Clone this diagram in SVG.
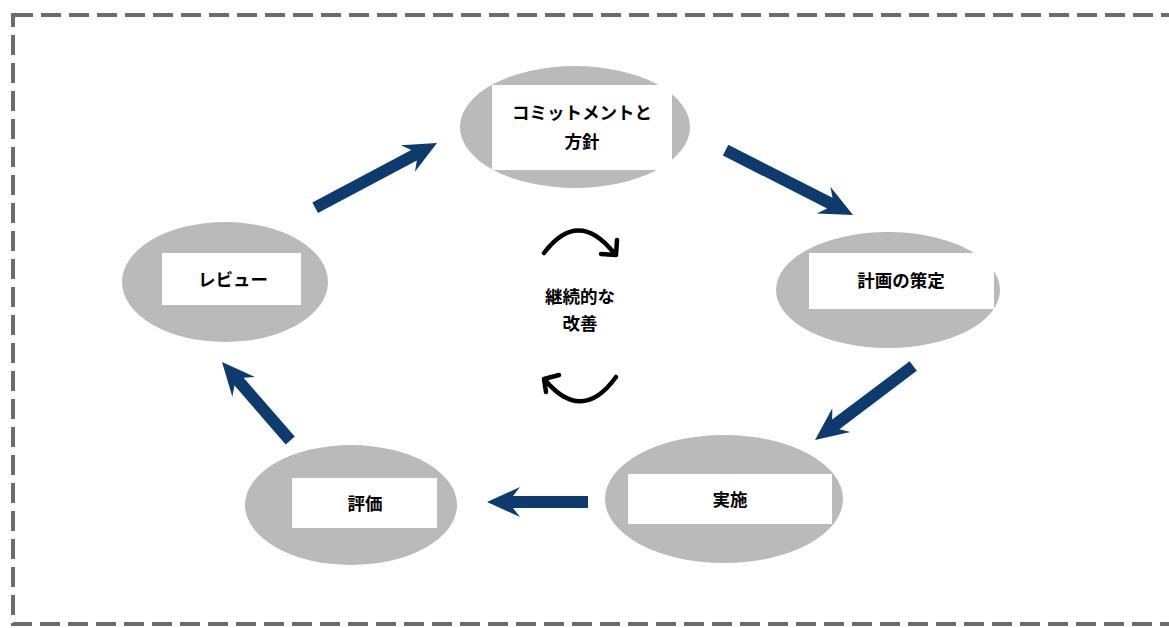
<svg xmlns="http://www.w3.org/2000/svg" width="1169" height="628" viewBox="0 0 1169 628">
<style>
.el{fill:#bababa}
.bx{fill:#ffffff}
.t{font-family:"Noto Sans CJK JP","Noto Sans",sans-serif;font-weight:bold;font-size:17.5px;fill:#000;text-anchor:middle}
.ar{fill:#0d3b6e}
.cv{fill:none;stroke:#000;stroke-width:4.5;stroke-linecap:round;stroke-linejoin:round}
</style>
<rect x="13" y="15" width="1175" height="609" fill="none" stroke="#6b6b6b" stroke-width="4" stroke-dasharray="20 8"/>
<g id="node-commitment">
<ellipse class="el" cx="575" cy="127" rx="115" ry="61"/>
<rect class="bx" x="492" y="85" width="180" height="85"/>
<text class="t" x="582" y="119">コミットメントと</text>
<text class="t" x="582" y="148">方針</text>
</g>
<g id="node-plan">
<ellipse class="el" cx="888" cy="290" rx="112" ry="58"/>
<rect class="bx" x="809" y="253" width="185" height="56"/>
<text class="t" x="901" y="287">計画の策定</text>
</g>
<g id="node-do">
<ellipse class="el" cx="724" cy="499" rx="119" ry="64"/>
<rect class="bx" x="628" y="474" width="204" height="50"/>
<text class="t" x="730" y="506">実施</text>
</g>
<g id="node-eval">
<ellipse class="el" cx="351" cy="505" rx="106" ry="60"/>
<rect class="bx" x="292" y="478" width="145" height="50"/>
<text class="t" x="365" y="510">評価</text>
</g>
<g id="node-review">
<ellipse class="el" cx="225" cy="282" rx="103" ry="60"/>
<rect class="bx" x="162" y="253" width="139" height="52"/>
<text class="t" x="233" y="286">レビュー</text>
</g>
<g id="node-center">
<text class="t" x="580" y="303">継続的な</text>
<text class="t" x="580" y="330">改善</text>
</g>
<g id="connectors">
<polygon class="ar" transform="translate(437,143) rotate(-28)" points="-138,-6 -26,-6 -33,-15 0,0 -33,15 -26,6 -138,6"/>
<polygon class="ar" transform="translate(853,215) rotate(27)" points="-143,-6 -26,-6 -33,-15 0,0 -33,15 -26,6 -143,6"/>
<polygon class="ar" transform="translate(815,440) rotate(143)" points="-123,-6 -26,-6 -33,-15 0,0 -33,15 -26,6 -123,6"/>
<polygon class="ar" transform="translate(487,502) rotate(180)" points="-101,-6 -26,-6 -33,-15 0,0 -33,15 -26,6 -101,6"/>
<polygon class="ar" transform="translate(222,362) rotate(-131)" points="-104,-6 -26,-6 -33,-15 0,0 -33,15 -26,6 -104,6"/>
<path class="cv" d="M544,253 Q578,208 614,253"/>
<path class="cv" d="M601,254 L616,255 L617,240"/>
<path class="cv" d="M616,377 Q582,424 545,380"/>
<path class="cv" d="M546,392 L544,379 L559,375"/>
</g>
</svg>
